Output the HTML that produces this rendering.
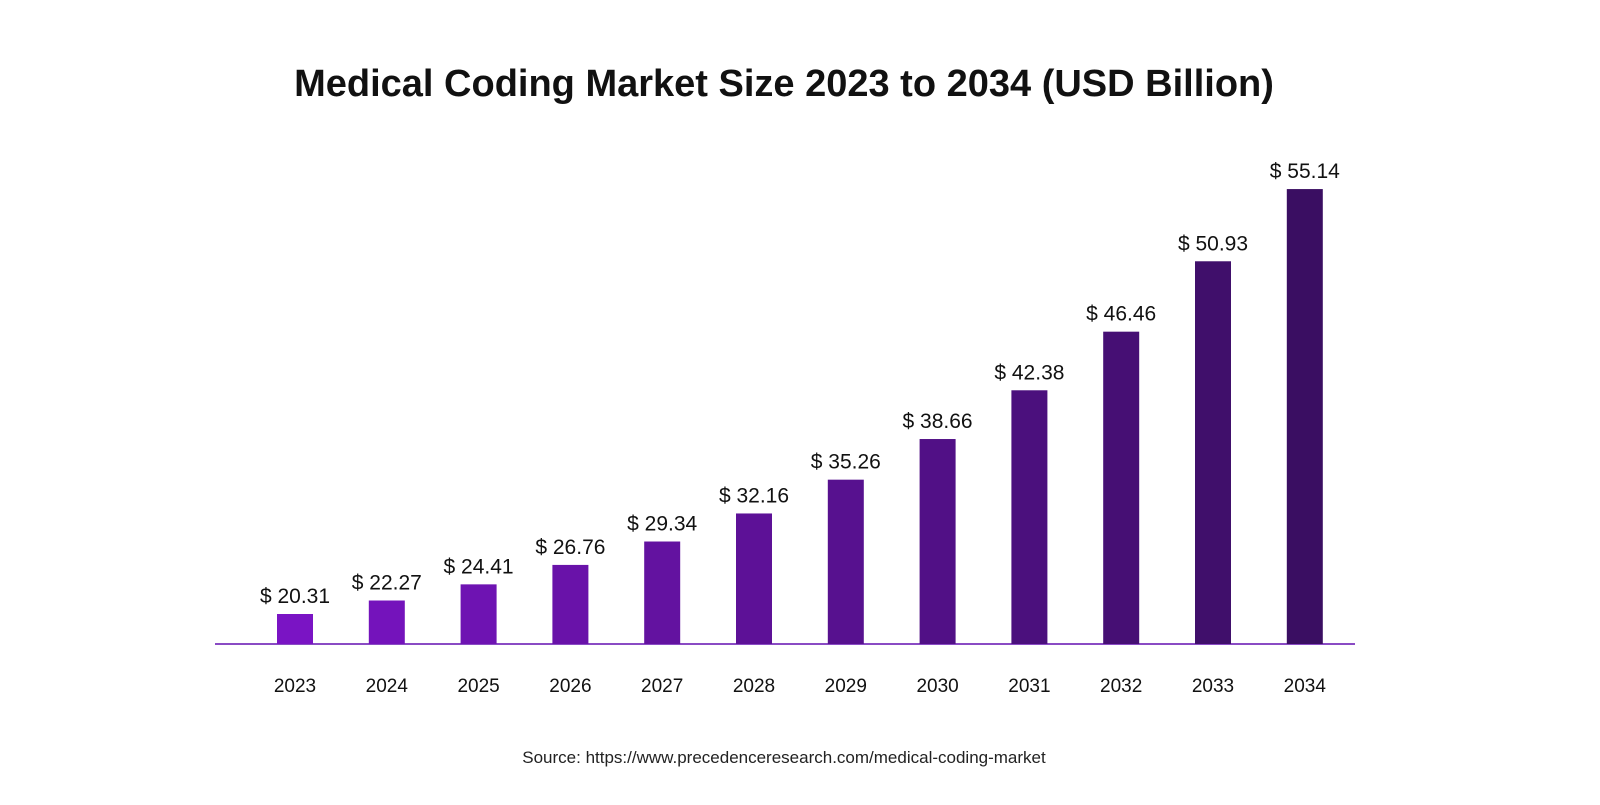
<!DOCTYPE html>
<html><head><meta charset="utf-8"><style>
body{margin:0;background:#fff;width:1600px;height:800px;overflow:hidden;font-family:"Liberation Sans",sans-serif}
</style></head><body>
<svg width="1600" height="800">
<text x="784" y="96" text-anchor="middle" font-size="38" font-weight="bold" fill="#111">Medical Coding Market Size 2023 to 2034 (USD Billion)</text>
<line x1="215" y1="644" x2="1355" y2="644" stroke="#8a4bc4" stroke-width="2"/>
<g id="bars"></g>
<text x="784" y="763" text-anchor="middle" font-size="17" fill="#222">Source: https://www.precedenceresearch.com/medical-coding-market</text>
</svg>
<script>
const categories=["2023","2024","2025","2026","2027","2028","2029","2030","2031","2032","2033","2034"];
const values=[20.31,22.27,24.41,26.76,29.34,32.16,35.26,38.66,42.38,46.46,50.93,55.14];
const valueLabels=["$ 20.31","$ 22.27","$ 24.41","$ 26.76","$ 29.34","$ 32.16","$ 35.26","$ 38.66","$ 42.38","$ 46.46","$ 50.93","$ 55.14"];
const base=644, x0=295, step=91.8, bw=36;
function xPos(i){return x0+i*step;}
function yPos(v){const h=0.1617*(v*v-227);return base-Math.max(h,4);}
function color(i,n){const t=i/(n-1);const a=[122,20,196],b=[58,14,98];return `rgb(${Math.round(a[0]+(b[0]-a[0])*t)},${Math.round(a[1]+(b[1]-a[1])*t)},${Math.round(a[2]+(b[2]-a[2])*t)})`;}
const g=document.getElementById('bars');const ns="http://www.w3.org/2000/svg";
values.forEach((v,i)=>{
 const x=xPos(i),y=yPos(v);
 const r=document.createElementNS(ns,'rect');
 r.setAttribute('x',x-bw/2);r.setAttribute('y',y);r.setAttribute('width',bw);r.setAttribute('height',base-y);r.setAttribute('fill',color(i,values.length));
 
 
 g.appendChild(r);
 const t=document.createElementNS(ns,'text');
 t.setAttribute('x',x);t.setAttribute('y',y-11);t.setAttribute('text-anchor','middle');t.setAttribute('font-size','21');t.setAttribute('fill','#111');
 t.textContent=valueLabels[i];
 
 
 g.appendChild(t);
 const c=document.createElementNS(ns,'text');
 c.setAttribute('x',x);c.setAttribute('y',692);c.setAttribute('text-anchor','middle');c.setAttribute('font-size','19');c.setAttribute('fill','#111');
 c.textContent=categories[i];
 
 
 g.appendChild(c);
});
</script>
</body></html>
